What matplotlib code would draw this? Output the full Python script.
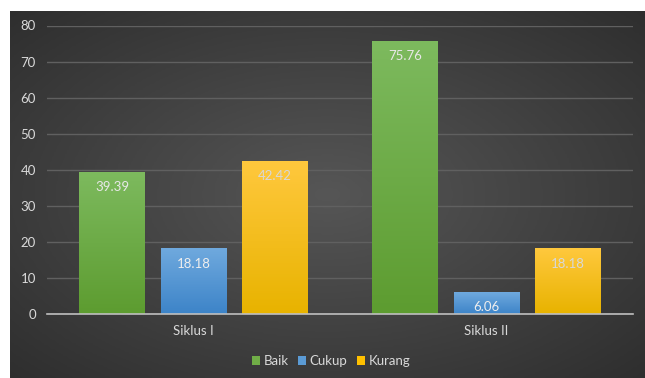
import numpy as np
import matplotlib
matplotlib.use("Agg")
import matplotlib.pyplot as plt
from matplotlib.colors import LinearSegmentedColormap
from matplotlib.patches import Patch

plt.rcParams['font.family'] = ['Lato', 'DejaVu Sans']

categories = ["Siklus I", "Siklus II"]
series = ["Baik", "Cukup", "Kurang"]
values = {
    "Baik": [39.39, 75.76],
    "Cukup": [18.18, 6.06],
    "Kurang": [42.42, 18.18],
}
yticks = [0, 10, 20, 30, 40, 50, 60, 70, 80]

top_colors = {"Baik": "#7dba5e", "Cukup": "#6fa9de", "Kurang": "#ffc83d"}
bot_colors = {"Baik": "#5d9c30", "Cukup": "#3d84c8", "Kurang": "#e8b300"}
legend_colors = {"Baik": "#70ad47", "Cukup": "#5b9bd5", "Kurang": "#ffc000"}
label_colors = {"Baik": "#e8e8e8", "Cukup": "#eeeeee", "Kurang": "#d8d8d8"}

W, H = 645, 378
fig = plt.figure(figsize=(W / 100, H / 100), dpi=100, facecolor="white")

# background with radial gradient
bg = fig.add_axes([10 / W, 0, (W - 10) / W, (H - 11) / H])
bg.set_axis_off()
yy, xx = np.mgrid[0:1:200j, 0:1:300j]
r = np.sqrt(((xx - 0.5) / 0.75) ** 2 + ((yy - 0.5) / 0.75) ** 2)
bgcmap = LinearSegmentedColormap.from_list("bg", ["#565656", "#2c2c2c"])
bg.imshow(np.clip(r, 0, 1), cmap=bgcmap, aspect="auto", extent=[0, 1, 0, 1], vmin=0, vmax=1)
bg.set_xlim(0, 1)
bg.set_ylim(0, 1)

ax = fig.add_axes([47 / W, (H - 314) / H, (633 - 47) / W, (314 - 25.5) / H])
ax.set_facecolor("none")
ax.patch.set_alpha(0)

x = np.arange(len(categories))
bw = 0.223
step = 0.278
for i, s in enumerate(series):
    pos = x + (i - 1) * step
    bars = ax.bar(pos, values[s], width=bw, color="none", edgecolor="none", zorder=3)
    cmap = LinearSegmentedColormap.from_list(s, [bot_colors[s], top_colors[s]])
    for b, v in zip(bars, values[s]):
        grad = np.linspace(0, 1, 100).reshape(-1, 1)
        im = ax.imshow(grad, cmap=cmap, origin="lower", aspect="auto",
                       extent=[b.get_x(), b.get_x() + b.get_width(), 0, b.get_height()],
                       zorder=3)
        im.set_clip_path(b)
        ax.annotate(f"{v:.2f}", (b.get_x() + b.get_width() / 2, b.get_height()),
                    xytext=(0, -11), textcoords="offset points", ha="center", va="center",
                    color=label_colors[s], fontsize=9.5, zorder=5)

ax.set_xlim(-0.5, 1.5)
ax.set_ylim(0, 80)
ax.set_yticks(yticks)
ax.set_xticks(x)
ax.set_xticklabels(categories)
ax.grid(axis="y", color="#606060", linewidth=1, zorder=0)
ax.set_axisbelow(True)
for sp in ["top", "right", "left"]:
    ax.spines[sp].set_visible(False)
ax.spines["bottom"].set_color("#bfbfbf")
ax.spines["bottom"].set_linewidth(1.2)
ax.spines["bottom"].set_zorder(4)
ax.tick_params(axis="both", length=0, colors="#d9d9d9", labelsize=9.5)
ax.tick_params(axis="y", pad=8)
ax.tick_params(axis="x", pad=8)

handles = [Patch(facecolor=legend_colors[s], edgecolor="none", label=s) for s in series]
leg = fig.legend(handles=handles, loc="center", bbox_to_anchor=(331 / W, (H - 361) / H),
                 ncol=3, frameon=False, fontsize=9.5, handlelength=0.65, handleheight=0.65,
                 handletextpad=0.25, columnspacing=0.7)
for t in leg.get_texts():
    t.set_color("#d9d9d9")

fig.savefig("out.png", dpi=100, facecolor="white")
